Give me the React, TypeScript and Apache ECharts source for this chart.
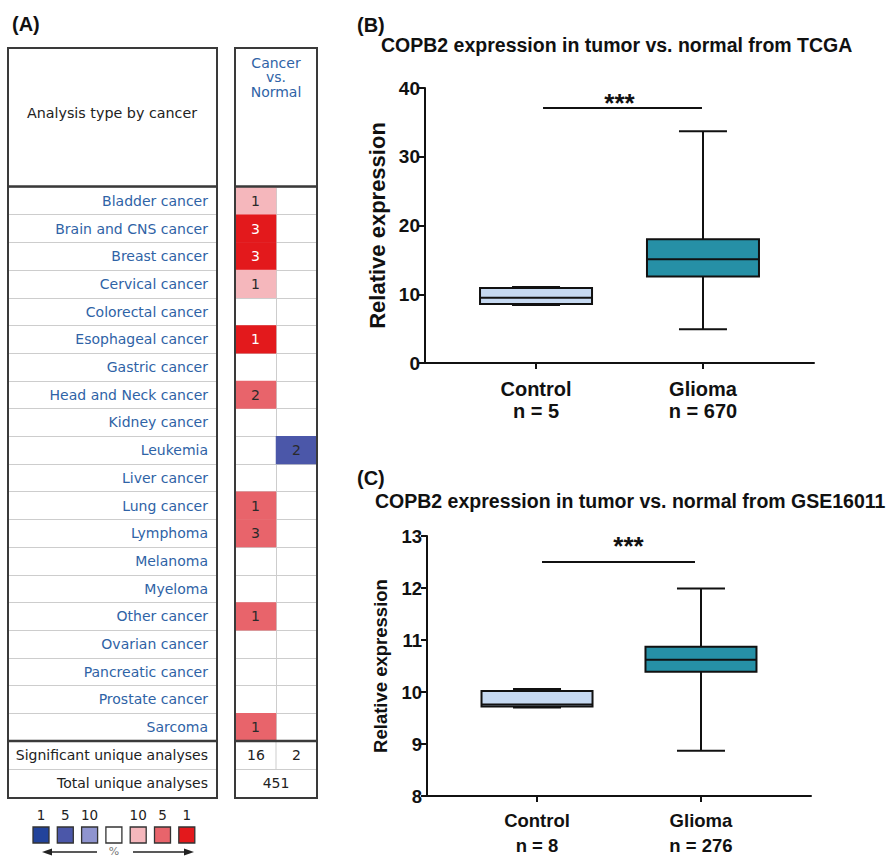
import React, { useEffect, useRef } from 'react';
import * as echarts from 'echarts';

// ---------- Panel A data (Oncomine summary) ----------
const cancerTypes = [
  'Bladder cancer', 'Brain and CNS cancer', 'Breast cancer', 'Cervical cancer', 'Colorectal cancer',
  'Esophageal cancer', 'Gastric cancer', 'Head and Neck cancer', 'Kidney cancer', 'Leukemia',
  'Liver cancer', 'Lung cancer', 'Lymphoma', 'Melanoma', 'Myeloma',
  'Other cancer', 'Ovarian cancer', 'Pancreatic cancer', 'Prostate cancer', 'Sarcoma',
];
const upCounts = [1, 3, 3, 1, 0, 1, 0, 2, 0, 0, 0, 1, 3, 0, 0, 1, 0, 0, 0, 1];
const upRanks = [10, 1, 1, 10, 0, 1, 0, 5, 0, 0, 0, 5, 5, 0, 0, 5, 0, 0, 0, 5];
const downCounts = [0, 0, 0, 0, 0, 0, 0, 0, 0, 2, 0, 0, 0, 0, 0, 0, 0, 0, 0, 0];
const downRanks = [0, 0, 0, 0, 0, 0, 0, 0, 0, 5, 0, 0, 0, 0, 0, 0, 0, 0, 0, 0];
const columnKeys = ['over', 'under'];
const significantUnique = [16, 2];
const totalUnique = 451;
const legendRankLabels = ['1', '5', '10', '', '10', '5', '1'];
const legendRankValues = [-1, -5, -10, 0, 10, 5, 1];

// ---------- Panel B / C data ----------
const groups = ['Control', 'Glioma'];
const tcgaN = [5, 670];
// [min, Q1, median, Q3, max]
const tcgaStats = [
  [8.45, 8.6, 9.5, 10.9, 11.05],
  [4.9, 12.6, 15.1, 18.0, 33.7],
];
const tcgaSigLevel = 37.1;
const gseN = [8, 276];
const gseStats = [
  [9.7, 9.72, 9.76, 10.02, 10.06],
  [8.87, 10.39, 10.62, 10.87, 11.99],
];
const gseSigLevel = 12.5;

// ---------- styles ----------
const ARIAL = '"Liberation Sans", Arial, Helvetica, sans-serif';
const ONCO = '"DejaVu Sans", "Noto Sans", sans-serif';
const BLUE_TXT = '#2f63a6';
const FRAME = '#3a3a3a';
const ROWLINE = '#cdcdcd';
const INK = '#111111';
const rankColors: Record<string, string> = {
  '1': '#e3191c', '5': '#e8646b', '10': '#f5b7bc',
  '-1': '#22439b', '-5': '#4b57a9', '-10': '#8f94cf', '0': '#ffffff',
};
const boxFills = ['#c6d9f1', '#2690a6'];

function boxRenderer(boxW: number, capW: number) {
  return (params: any, api: any) => {
    const xi = api.value(0);
    const cx = api.coord([xi, api.value(1)])[0];
    const y = (d: number) => api.coord([xi, api.value(d)])[1];
    const yMin = y(1), yQ1 = y(2), yMed = y(3), yQ3 = y(4), yMax = y(5);
    const ls = { stroke: INK, lineWidth: 2 };
    return {
      type: 'group',
      children: [
        { type: 'line', shape: { x1: cx, y1: yQ3, x2: cx, y2: yMax }, style: ls },
        { type: 'line', shape: { x1: cx, y1: yQ1, x2: cx, y2: yMin }, style: ls },
        { type: 'line', shape: { x1: cx - capW / 2, y1: yMax, x2: cx + capW / 2, y2: yMax }, style: ls },
        { type: 'line', shape: { x1: cx - capW / 2, y1: yMin, x2: cx + capW / 2, y2: yMin }, style: ls },
        {
          type: 'rect',
          shape: { x: cx - boxW / 2, y: yQ3, width: boxW, height: yQ1 - yQ3 },
          style: { fill: boxFills[params.dataIndex], stroke: INK, lineWidth: 2 },
        },
        { type: 'line', shape: { x1: cx - boxW / 2, y1: yMed, x2: cx + boxW / 2, y2: yMed }, style: ls },
      ],
    };
  };
}

function sigRenderer(insetL: number, insetR: number, textDy: number, textDx: number) {
  return (params: any, api: any) => {
    const p0 = api.coord([api.value(0), api.value(2)]);
    const p1 = api.coord([api.value(1), api.value(2)]);
    const x0 = p0[0] + insetL, x1 = p1[0] - insetR;
    return {
      type: 'group',
      children: [
        { type: 'line', shape: { x1: x0, y1: p0[1], x2: x1, y2: p0[1] }, style: { stroke: INK, lineWidth: 2 } },
        {
          type: 'text',
          x: (x0 + x1) / 2 + textDx,
          y: p0[1] - textDy,
          style: {
            text: '***', fill: INK, fontFamily: ARIAL, fontWeight: 'bold', fontSize: 26,
            align: 'center', verticalAlign: 'middle', textAlign: 'center', textVerticalAlign: 'middle',
          },
        },
      ],
    };
  };
}

function buildOption() {
  const heatData: any[] = [];
  cancerTypes.forEach((_, i) => {
    if (upCounts[i] > 0) {
      heatData.push({
        value: [0, i, upCounts[i], upRanks[i]],
        label: { color: upRanks[i] === 1 ? '#ffffff' : '#2a2a2a' },
      });
    }
    if (downCounts[i] > 0) {
      heatData.push({
        value: [1, i, downCounts[i], -downRanks[i]],
        label: { color: downRanks[i] === 1 ? '#ffffff' : '#2a2a2a' },
      });
    }
  });

  const txt = (text: string, x: number, y: number, opts: any = {}) => ({
    type: 'text', x, y, silent: true,
    style: {
      text, fill: opts.fill || '#222', fontFamily: opts.family || ONCO, fontSize: opts.size || 14,
      fontWeight: opts.weight || 'normal', lineHeight: opts.lh,
      align: opts.align || 'center', verticalAlign: 'middle',
      textAlign: opts.align || 'center', textVerticalAlign: 'middle',
    },
  });
  const line = (x1: number, y1: number, x2: number, y2: number, stroke: string, lineWidth: number) => ({
    type: 'line', silent: true, shape: { x1, y1, x2, y2 }, style: { stroke, lineWidth },
  });

  const graphics: any[] = [
    // frames of panel A
    { type: 'rect', shape: { x: 8, y: 48, width: 209, height: 750 }, style: { fill: 'none', stroke: FRAME, lineWidth: 2 }, z: 10 },
    { type: 'rect', shape: { x: 235, y: 48, width: 82, height: 750 }, style: { fill: 'none', stroke: FRAME, lineWidth: 2 }, z: 10 },
    { ...line(8, 186.5, 217, 186.5, FRAME, 2.5), z: 10 },
    { ...line(235, 186.5, 317, 186.5, FRAME, 2.5), z: 10 },
    { ...line(8, 741, 217, 741, FRAME, 2.5), z: 10 },
    { ...line(235, 741, 317, 741, FRAME, 2.5), z: 10 },
    line(8, 769.5, 217, 769.5, ROWLINE, 1),
    line(235, 769.5, 317, 769.5, ROWLINE, 1),
    line(276, 741, 276, 769.5, ROWLINE, 1),
    txt('Analysis type by cancer', 112, 113, { fill: '#222', size: 14.3 }),
    txt('Cancer\nvs.\nNormal', 276, 77, { fill: BLUE_TXT, lh: 14.5 }),
    txt('Significant unique analyses', 208, 755, { align: 'right' }),
    txt('Total unique analyses', 208, 783, { align: 'right' }),
    txt(String(significantUnique[0]), 256, 755),
    txt(String(significantUnique[1]), 296.5, 755),
    txt(String(totalUnique), 276, 783),
  ];
  // rank legend
  legendRankValues.forEach((r, k) => {
    const x = 33 + k * 24.3;
    graphics.push({
      type: 'rect', shape: { x, y: 827, width: 16, height: 16 },
      style: { fill: rankColors[String(r)], stroke: '#333', lineWidth: 1.3 },
    });
    if (legendRankLabels[k]) graphics.push(txt(legendRankLabels[k], x + 8, 815, { size: 13.5 }));
  });
  graphics.push(line(50, 852, 97, 852, '#222', 1.5));
  graphics.push({ type: 'polygon', shape: { points: [[42, 852], [52, 848.5], [52, 855.5]] }, style: { fill: '#222' } });
  graphics.push(line(133, 852, 185, 852, '#222', 1.5));
  graphics.push({ type: 'polygon', shape: { points: [[194, 852], [184, 848.5], [184, 855.5]] }, style: { fill: '#222' } });
  graphics.push(txt('%', 114, 851, { size: 11, fill: '#777' }));

  const titleStyle = (size: number) => ({
    fontFamily: ARIAL, fontWeight: 'bold', fontSize: size, color: INK, lineHeight: size + 2,
  });

  const boxX = (gi: number, pad: number, labels: (v: number) => string, size: number, lh: number, margin: number) => ({
    gridIndex: gi, type: 'value', min: -pad, max: 1 + pad,
    axisLine: { show: true, onZero: false, lineStyle: { color: INK, width: 2 } },
    axisTick: { show: true, customValues: [0, 1], length: 6, lineStyle: { color: INK, width: 2 } },
    axisLabel: {
      show: true, customValues: [0, 1], formatter: (v: number) => labels(Math.round(v)),
      fontFamily: ARIAL, fontWeight: 'bold', fontSize: size, lineHeight: lh, color: INK, margin,
    },
    splitLine: { show: false },
  });
  const boxY = (gi: number, min: number, max: number, interval: number, size: number, nameSize: number, gap: number) => ({
    gridIndex: gi, type: 'value', min, max, interval,
    name: 'Relative expression', nameLocation: 'middle', nameGap: gap, nameRotate: 90,
    nameTextStyle: { fontFamily: ARIAL, fontWeight: 'bold', fontSize: nameSize, color: INK },
    axisLine: { show: true, onZero: false, lineStyle: { color: INK, width: 2 } },
    axisTick: { show: true, length: 6, lineStyle: { color: INK, width: 2 } },
    axisLabel: { fontFamily: ARIAL, fontWeight: 'bold', fontSize: size, color: INK, margin: 5 },
    splitLine: { show: false },
  });

  return {
    animation: false,
    backgroundColor: '#ffffff',
    title: [
      { text: '(A)', left: 12, top: 13, padding: 0, textStyle: titleStyle(20) },
      { text: '(B)', left: 357, top: 14, padding: 0, textStyle: titleStyle(20) },
      { text: 'COPB2 expression in tumor vs. normal from TCGA', left: 381, top: 34, padding: 0, textStyle: titleStyle(19.5) },
      { text: '(C)', left: 357, top: 467, padding: 0, textStyle: titleStyle(20) },
      { text: 'COPB2 expression in tumor vs. normal from GSE16011', left: 375, top: 490, padding: 0, textStyle: titleStyle(19.5) },
    ],
    grid: [
      { left: 8, top: 187, width: 209, height: 554 },
      { left: 235, top: 187, width: 82, height: 554 },
      { left: 425, top: 88, width: 389, height: 275 },
      { left: 427, top: 536, width: 384, height: 270 },
    ],
    xAxis: [
      { gridIndex: 0, type: 'value', show: false },
      {
        gridIndex: 1, type: 'category', data: columnKeys,
        axisLine: { show: false }, axisTick: { show: false }, axisLabel: { show: false },
        splitLine: { show: true, interval: 0, lineStyle: { color: ROWLINE, width: 1 } },
      },
      boxX(2, 0.665, (i) => `${groups[i]}\nn = ${tcgaN[i]}`, 20, 22, 15),
      boxX(3, 0.671, (i) => `${groups[i]}\nn = ${gseN[i]}`, 18.5, 25, 12),
    ],
    yAxis: [
      {
        gridIndex: 0, type: 'category', data: cancerTypes, inverse: true, position: 'right',
        axisLine: { show: false }, axisTick: { show: false, interval: 0 },
        axisLabel: { inside: true, margin: 9, interval: 0, color: BLUE_TXT, fontFamily: ONCO, fontSize: 14 },
        splitLine: { show: true, interval: 0, lineStyle: { color: ROWLINE, width: 1 } },
      },
      {
        gridIndex: 1, type: 'category', data: cancerTypes, inverse: true,
        axisLine: { show: false }, axisTick: { show: false, interval: 0 }, axisLabel: { show: false },
        splitLine: { show: true, interval: 0, lineStyle: { color: ROWLINE, width: 1 } },
      },
      boxY(2, 0, 40, 10, 19, 22, 37),
      boxY(3, 8, 13, 1, 18.5, 18.5, 37),
    ],
    visualMap: {
      type: 'piecewise', show: false, seriesIndex: 0, dimension: 3,
      pieces: [1, 5, 10, -1, -5, -10].map((v) => ({ value: v, color: rankColors[String(v)] })),
    },
    series: [
      {
        type: 'heatmap', xAxisIndex: 1, yAxisIndex: 1, data: heatData,
        label: {
          show: true, formatter: (p: any) => String(p.value[2]),
          fontFamily: ONCO, fontSize: 14,
        },
        itemStyle: { borderWidth: 0 },
      },
      {
        type: 'custom', xAxisIndex: 2, yAxisIndex: 2, renderItem: boxRenderer(112, 48),
        data: tcgaStats.map((s, i) => [i, ...s]), encode: { x: 0, y: [1, 2, 3, 4, 5] },
      },
      {
        type: 'custom', xAxisIndex: 2, yAxisIndex: 2, renderItem: sigRenderer(7, 1, 5, -3),
        data: [[0, 1, tcgaSigLevel]], encode: { x: [0, 1], y: 2 },
      },
      {
        type: 'custom', xAxisIndex: 3, yAxisIndex: 3, renderItem: boxRenderer(111, 48),
        data: gseStats.map((s, i) => [i, ...s]), encode: { x: 0, y: [1, 2, 3, 4, 5] },
      },
      {
        type: 'custom', xAxisIndex: 3, yAxisIndex: 3, renderItem: sigRenderer(5, 6, 16, 10),
        data: [[0, 1, gseSigLevel]], encode: { x: [0, 1], y: 2 },
      },
    ],
    graphic: { elements: graphics },
  };
}

export default function App() {
  const ref = useRef<HTMLDivElement>(null);
  useEffect(() => {
    if (!ref.current) return;
    const chart = echarts.init(ref.current, null, { renderer: 'svg' });
    chart.setOption(buildOption() as any);
    return () => chart.dispose();
  }, []);
  return (
    <div
      ref={ref}
      style={{ position: 'fixed', left: 0, top: 0, width: 894, height: 858, background: '#fff' }}
    />
  );
}
